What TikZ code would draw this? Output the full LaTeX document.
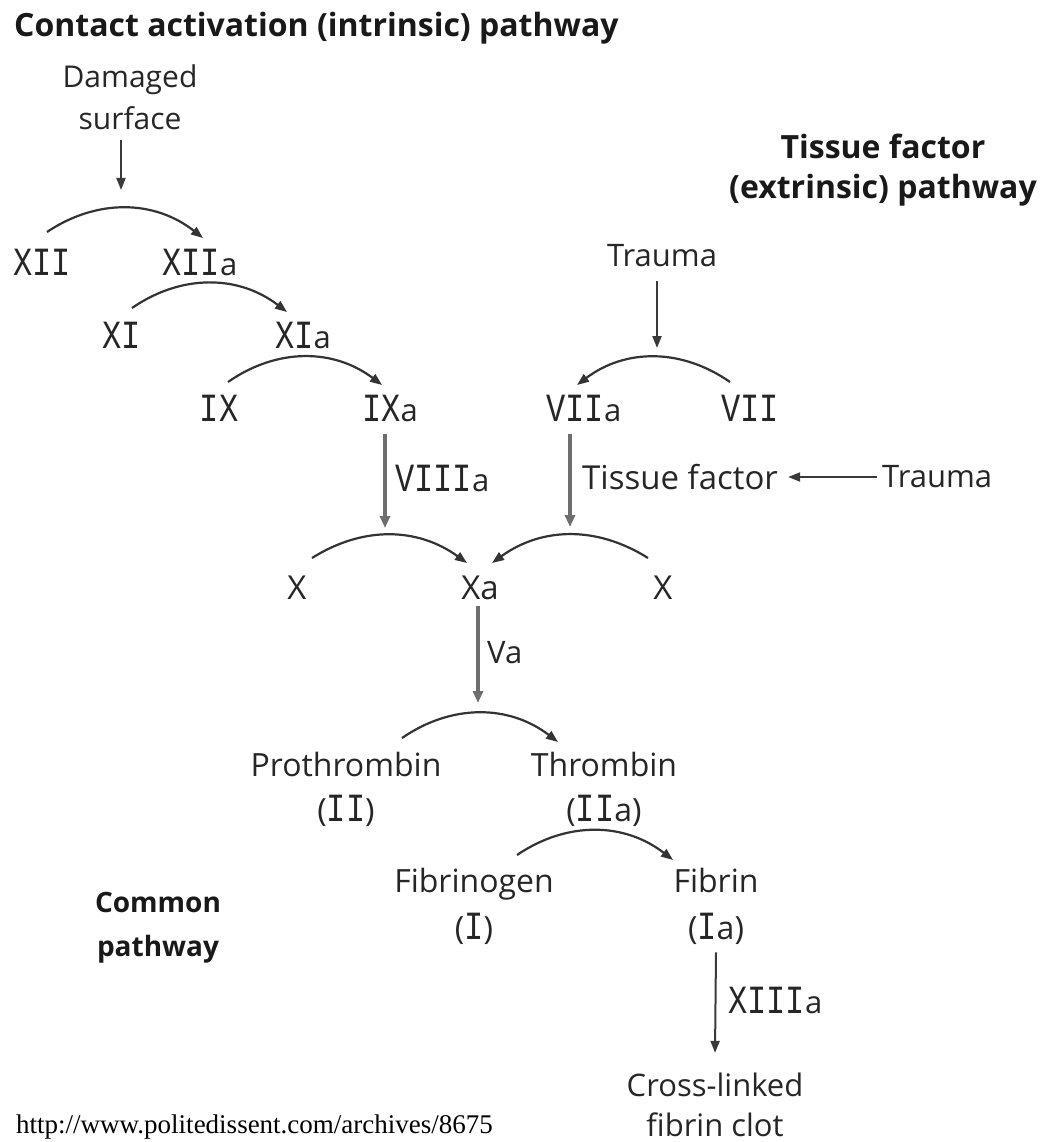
\documentclass[tikz,border=0pt]{standalone}
\usepackage{graphicx}
\usepackage{fontspec}
\setmainfont{Open Sans}
\newfontfamily\monof{Liberation Mono}
\newfontfamily\urlf{Liberation Serif}
\usetikzlibrary{arrows.meta}
\newcommand{\rn}[1]{{\fontsize{32}{36}\selectfont\monof\scalebox{1}[1.25]{#1}}}
\definecolor{arccol}{HTML}{333333}
\definecolor{vcol}{HTML}{6E6E6E}
\definecolor{dcol}{HTML}{3A3A3A}
\tikzset{
  lbl/.style={inner sep=0pt, font=\fontsize{31}{44}\selectfont, text=black!85},
  twol/.style={lbl, align=center},
  hdr/.style={inner sep=0pt, font=\fontsize{32}{40}\selectfont\bfseries, text=black!90, align=center},
  arcarr/.style={draw=arccol, line width=2.2pt, -{Triangle[length=12pt,width=9pt]}},
  thickarr/.style={draw=vcol, line width=3.5pt, -{Triangle[length=12pt,width=10pt]}},
  thinarr/.style={draw=dcol, line width=2pt, -{Triangle[length=12pt,width=9pt]}}
}
\begin{document}
\begin{tikzpicture}[x=1pt,y=1pt]
\useasboundingbox (0,0) rectangle (1041,-1142);
% headings
\node[hdr, anchor=west, font=\fontsize{32}{40}\selectfont\bfseries] (title) at (14,-28) {Contact activation (intrinsic) pathway};
\node[hdr] (tfhead) at (883,-170) {Tissue factor\\(extrinsic) pathway};
\node[hdr, font=\fontsize{28}{44}\selectfont\bfseries] (common) at (158,-928) {Common\\pathway};
% intrinsic
\node[twol, font=\fontsize{30}{42}\selectfont] (dmg) at (130,-97) {Damaged\\surface};
\coordinate (t1) at (121,-190);
\node[lbl] (XII) at (42,-262) {\rn{XII}};
\node[lbl] (XIIa) at (200,-262) {\rn{XII}a};
\node[lbl] (XI) at (122,-335) {\rn{XI}};
\node[lbl] (XIa) at (303,-335) {\rn{XI}a};
\node[lbl] (IX) at (219,-408) {\rn{IX}};
\node[lbl] (IXa) at (390,-408) {\rn{IX}a};
\node[lbl, anchor=west] (VIIIa) at (395,-478) {\rn{VIII}a};
\coordinate (t3) at (385,-528);
% extrinsic
\node[lbl] (trauma) at (662,-256) {Trauma};
\coordinate (t2) at (657,-348);
\node[lbl] (VIIa) at (584,-408) {\rn{VII}a};
\node[lbl] (VII) at (750,-408) {\rn{VII}};
\node[lbl, anchor=west, font=\fontsize{33}{44}\selectfont] (tf) at (582,-477) {Tissue factor};
\node[lbl, anchor=west] (trauma2) at (882,-477) {Trauma};
\coordinate (t4) at (570,-527);
% X
\node[lbl, font=\fontsize{33}{44}\selectfont] (Xl) at (297,-588) {X};
\node[lbl, font=\fontsize{33}{44}\selectfont] (Xa) at (480,-588) {Xa};
\node[lbl, font=\fontsize{33}{44}\selectfont] (Xr) at (663,-588) {X};
\node[lbl, anchor=west] (Va) at (487,-653) {Va};
\coordinate (t5) at (478,-703);
% common
\node[twol, font=\fontsize{32}{45}\selectfont] (pro) at (346,-789) {Prothrombin\\(\rn{II})};
\node[twol, font=\fontsize{32}{45}\selectfont] (thr) at (604,-789) {Thrombin\\(\rn{II}a)};
\node[twol, font=\fontsize{32}{47}\selectfont] (fgn) at (474,-906) {Fibrinogen\\(\rn{I})};
\node[twol, font=\fontsize{32}{47}\selectfont] (fib) at (716,-906) {Fibrin\\(\rn{I}a)};
\node[lbl, anchor=west] (XIIIa) at (728,-1000) {\rn{XIII}a};
\node[twol, font=\fontsize{31}{40}\selectfont] (clot) at (715,-1105) {Cross-linked\\fibrin clot};
\node[inner sep=0pt, anchor=west, font=\fontsize{27}{30}\selectfont\urlf] (url) at (16,-1127) {http://www.politedissent.com/archives/8675};
% vertical arrows
\draw[thinarr] ([yshift=-10pt]dmg.south -| t1) -- (t1);
\draw[thinarr] ([yshift=-14pt]trauma.south -| t2) -- (t2);
\draw[thickarr] ([yshift=-12pt]IXa.south -| t3) -- (t3);
\draw[thickarr] ([yshift=-12pt]VIIa.south -| t4) -- (t4);
\draw[thickarr] ([yshift=-6pt]Xa.south -| t5) -- (t5);
\draw[thinarr] ([yshift=-8pt]fib.south -| fib.south) -- ([yshift=20pt]clot.north);
\draw[thinarr] (trauma2.west) ++(-5,0) -- ([xshift=10pt]tf.east);
% arcs
\draw[arcarr] ([shift={(5,30)}]XII.center) to[bend left=36] ([shift={(3,24)}]XIIa.center);
\draw[arcarr] ([shift={(10,27)}]XI.center) to[bend left=36] ([shift={(-16,23)}]XIa.center);
\draw[arcarr] ([shift={(9,26)}]IX.center) to[bend left=36] ([shift={(-8,23)}]IXa.center);
\draw[arcarr] ([shift={(-20,26)}]VII.center) to[bend right=36] ([shift={(-7,23)}]VIIa.center);
\draw[arcarr] ([shift={(15,30)}]Xl.center) to[bend left=34] ([shift={(-13,25)}]Xa.center);
\draw[arcarr] ([shift={(-15,30)}]Xr.center) to[bend right=34] ([shift={(12,25)}]Xa.center);
\draw[arcarr] ([shift={(56,51)}]pro.center) to[bend left=36] ([shift={(-46,47)}]thr.center);
\draw[arcarr] ([shift={(43,51)}]fgn.center) to[bend left=36] ([shift={(-43,46)}]fib.center);
\end{tikzpicture}
\end{document}
